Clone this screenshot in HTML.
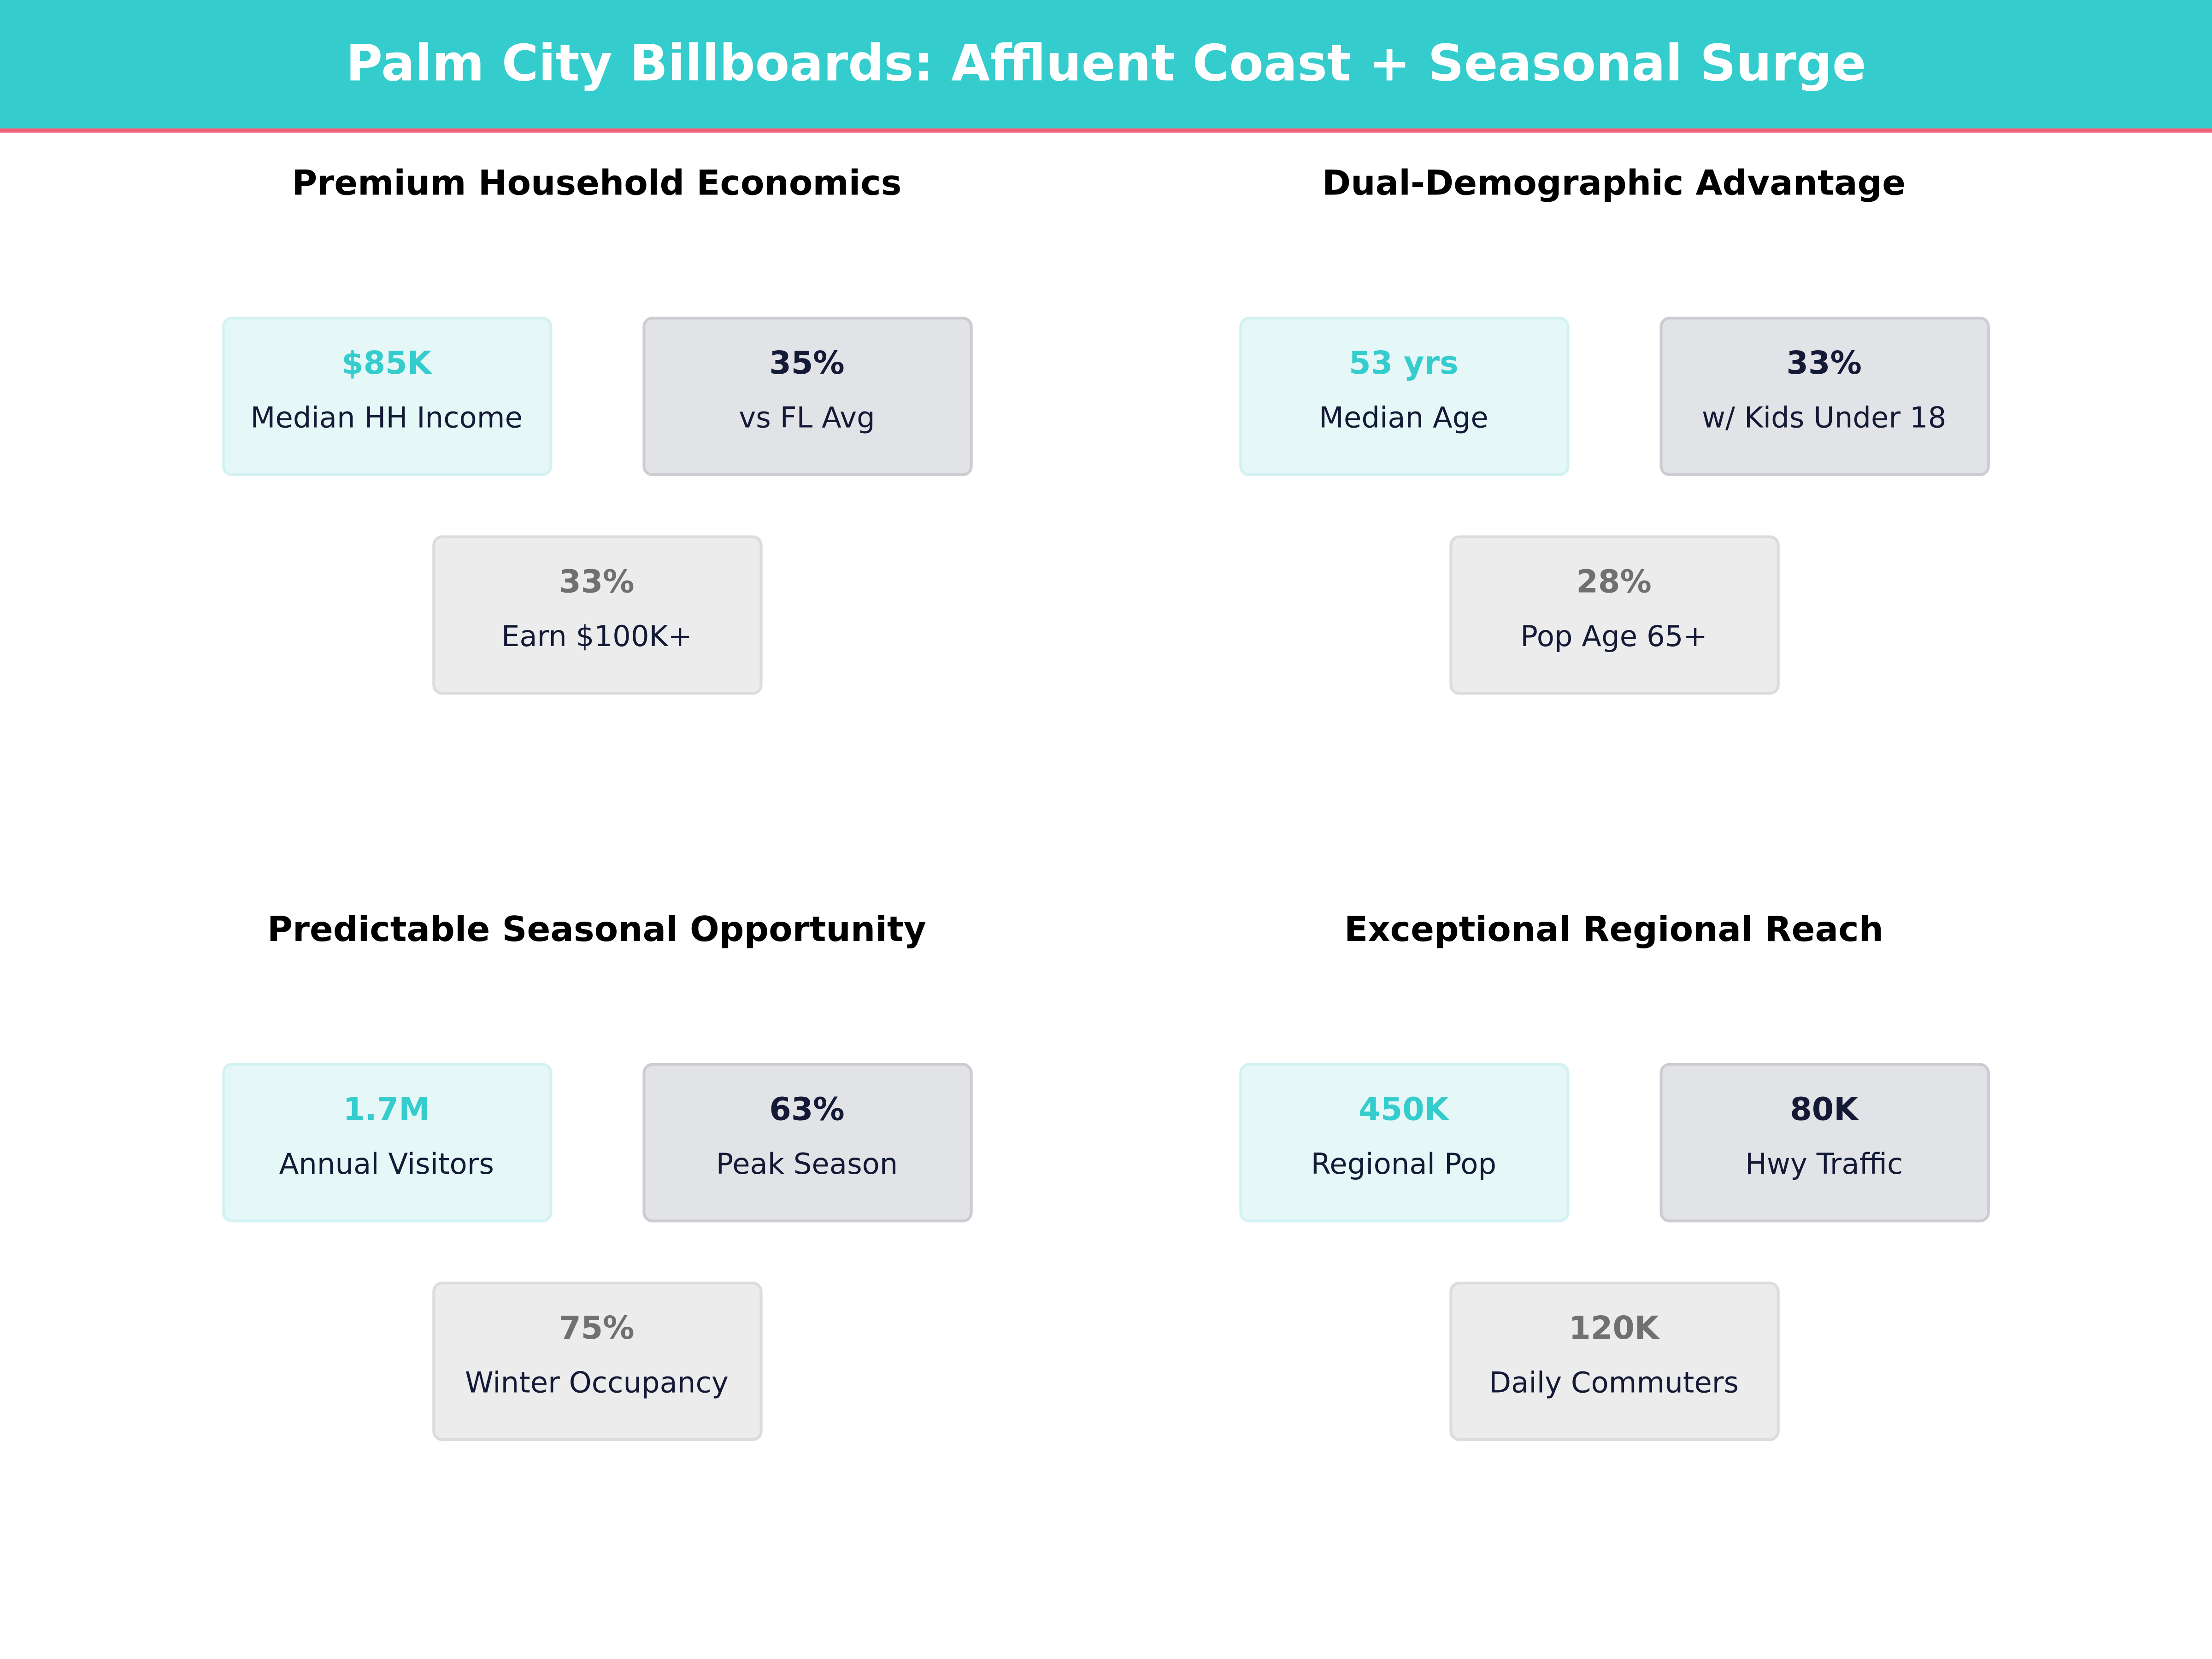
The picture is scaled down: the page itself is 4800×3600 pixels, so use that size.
<!DOCTYPE html>
<html><head><meta charset="utf-8"><style>
html,body{margin:0;padding:0;background:#fff;width:4800px;height:3600px;overflow:hidden}
svg{display:block}
text{font-family:"DejaVu Sans","Liberation Sans",sans-serif;text-anchor:middle}
.t{font-weight:bold;font-size:24.5px;fill:#000}
.v{font-weight:bold;font-size:22.3px}
.l{font-size:20.4px;fill:#141a36}
</style></head><body>
<svg width="4800" height="3600" viewBox="0 0 1568 1176" xmlns="http://www.w3.org/2000/svg">
<rect x="0" y="0" width="1568" height="91" fill="#35cccd"/>
<rect x="0" y="91" width="1568" height="3" fill="#f0627a"/>
<text x="784" y="57" style="font-weight:bold;font-size:35.5px;fill:#fff">Palm City Billboards: Affluent Coast + Seasonal Surge</text>
<defs>
<g id="b1"><rect x="158.5" y="225.5" width="232" height="111" rx="6" fill="#e5f7f7" stroke="#d3f2f3" stroke-width="2"/></g>
<g id="b2"><rect x="456.5" y="225.5" width="232" height="111" rx="6" fill="#e2e3e7" stroke="#cdccd3" stroke-width="2"/></g>
<g id="b3"><rect x="307.5" y="380.5" width="232" height="111" rx="6" fill="#ececec" stroke="#dcdcdc" stroke-width="2"/></g>
</defs>
<g>
<text class="t" x="423" y="138">Premium Household Economics</text>
<use href="#b1"/><use href="#b2"/><use href="#b3"/>
<text class="v" x="274" y="265" fill="#35cccd">$85K</text><text class="l" x="274" y="303">Median HH Income</text>
<text class="v" x="572" y="265" fill="#141a36">35%</text><text class="l" x="572" y="303">vs FL Avg</text>
<text class="v" x="423" y="420" fill="#707070">33%</text><text class="l" x="423" y="458">Earn $100K+</text>
</g>
<g transform="translate(721,0)">
<text class="t" x="423" y="138">Dual-Demographic Advantage</text>
<use href="#b1"/><use href="#b2"/><use href="#b3"/>
<text class="v" x="274" y="265" fill="#35cccd">53 yrs</text><text class="l" x="274" y="303">Median Age</text>
<text class="v" x="572" y="265" fill="#141a36">33%</text><text class="l" x="572" y="303">w/ Kids Under 18</text>
<text class="v" x="423" y="420" fill="#707070">28%</text><text class="l" x="423" y="458">Pop Age 65+</text>
</g>
<g transform="translate(0,529)">
<text class="t" x="423" y="138">Predictable Seasonal Opportunity</text>
<use href="#b1"/><use href="#b2"/><use href="#b3"/>
<text class="v" x="274" y="265" fill="#35cccd">1.7M</text><text class="l" x="274" y="303">Annual Visitors</text>
<text class="v" x="572" y="265" fill="#141a36">63%</text><text class="l" x="572" y="303">Peak Season</text>
<text class="v" x="423" y="420" fill="#707070">75%</text><text class="l" x="423" y="458">Winter Occupancy</text>
</g>
<g transform="translate(721,529)">
<text class="t" x="423" y="138">Exceptional Regional Reach</text>
<use href="#b1"/><use href="#b2"/><use href="#b3"/>
<text class="v" x="274" y="265" fill="#35cccd">450K</text><text class="l" x="274" y="303">Regional Pop</text>
<text class="v" x="572" y="265" fill="#141a36">80K</text><text class="l" x="572" y="303">Hwy Traffic</text>
<text class="v" x="423" y="420" fill="#707070">120K</text><text class="l" x="423" y="458">Daily Commuters</text>
</g>
</svg>
</body></html>
